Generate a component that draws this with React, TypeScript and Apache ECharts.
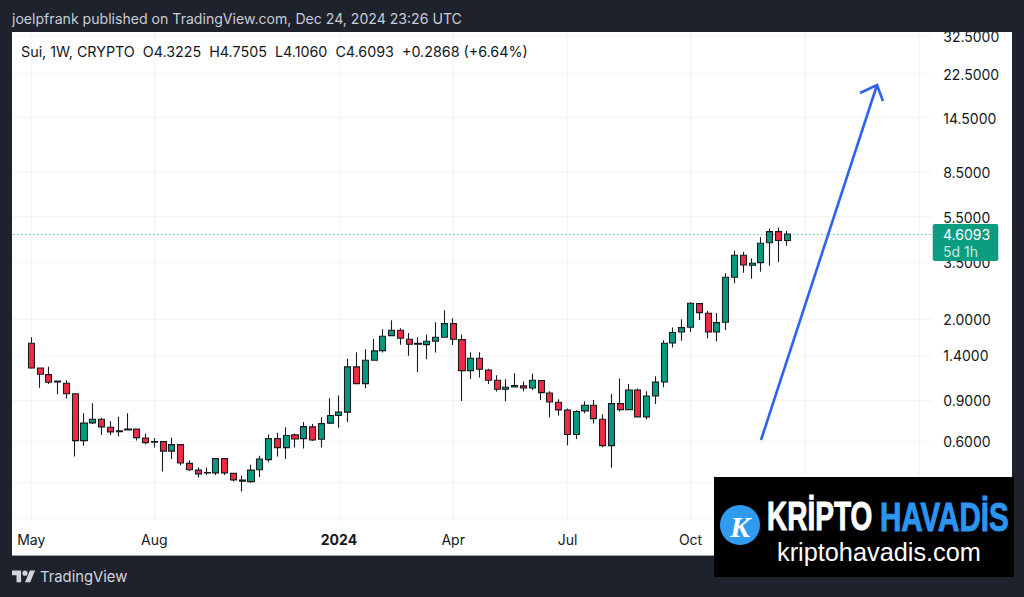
import React, { useEffect, useRef } from "react";
import * as echarts from "echarts";

const opens = [1.571,1.232,1.153,1.084,1.060,0.956,0.602,0.717,0.743,0.687,0.664,0.669,0.674,0.618,0.596,0.596,0.543,0.579,0.481,0.450,0.438,0.438,0.504,0.436,0.408,0.402,0.452,0.499,0.614,0.562,0.637,0.614,0.689,0.610,0.715,0.771,0.797,1.245,1.056,1.329,1.461,1.693,1.786,1.634,1.571,1.550,1.603,1.666,1.906,1.628,1.200,1.356,1.208,1.092,0.999,1.021,1.032,1.011,1.088,0.963,0.879,0.813,0.639,0.807,0.853,0.743,0.573,0.867,0.817,0.992,0.761,0.935,1.073,1.576,1.755,1.840,2.322,2.112,1.755,1.932,3.012,3.739,3.388,3.477,4.232,4.718,4.3225];
const highs = [1.666,1.236,1.248,1.087,1.092,0.960,0.789,0.871,0.755,0.729,0.761,0.789,0.676,0.645,0.618,0.598,0.620,0.581,0.496,0.463,0.461,0.506,0.506,0.438,0.427,0.475,0.519,0.639,0.651,0.687,0.645,0.724,0.710,0.758,0.914,0.938,1.350,1.438,1.481,1.639,1.804,1.971,1.822,1.739,1.666,1.710,1.932,2.174,2.011,1.710,1.438,1.438,1.223,1.147,1.103,1.170,1.077,1.162,1.092,0.979,0.905,0.826,0.813,0.887,0.899,0.781,0.953,1.109,1.052,1.005,0.979,1.135,1.618,1.833,1.991,2.352,2.330,2.160,2.118,3.133,3.912,3.873,3.631,4.461,4.862,4.911,4.7505];
const lows = [1.223,1.014,1.052,0.951,0.911,0.515,0.573,0.710,0.637,0.637,0.629,0.667,0.602,0.581,0.562,0.444,0.502,0.472,0.446,0.419,0.429,0.429,0.429,0.402,0.365,0.398,0.421,0.486,0.515,0.502,0.562,0.557,0.600,0.562,0.710,0.684,0.724,1.052,1.009,1.324,1.433,1.688,1.550,1.390,1.181,1.342,1.433,1.660,1.545,0.890,1.106,1.120,1.052,0.976,0.887,1.018,0.979,0.992,0.899,0.758,0.771,0.575,0.612,0.789,0.712,0.564,0.461,0.802,0.813,0.758,0.741,0.864,1.018,1.505,1.612,1.755,1.977,1.650,1.603,1.791,2.838,3.150,2.969,3.180,3.374,3.497,4.1060];
const closes = [1.232,1.158,1.070,1.073,0.956,0.602,0.715,0.743,0.689,0.656,0.658,0.674,0.620,0.590,0.592,0.543,0.579,0.483,0.452,0.434,0.440,0.504,0.438,0.409,0.404,0.450,0.502,0.614,0.562,0.633,0.612,0.691,0.606,0.712,0.771,0.797,1.245,1.056,1.329,1.457,1.683,1.786,1.650,1.556,1.556,1.603,1.666,1.906,1.634,1.200,1.356,1.216,1.092,0.999,1.018,1.035,1.011,1.092,0.966,0.881,0.815,0.639,0.802,0.853,0.748,0.573,0.867,0.817,0.992,0.761,0.935,1.071,1.571,1.748,1.833,2.330,2.124,1.755,1.925,3.012,3.739,3.398,3.456,4.208,4.718,4.3225,4.6093];

const priceLabels = [32.5, 22.5, 14.5, 8.5, 5.5, 3.5, 2.0, 1.4, 0.9, 0.6];
const priceGridOnly = [0.4, 0.28];
const leadingWeeks = 2;
const trailingWeeks = 16;
const monthLabels: Record<number, string> = { 0: "May", 14: "Aug", 35: "{b|2024}", 48: "Apr", 61: "Jul", 75: "Oct" };
const gridWeeks = [0, 14, 35, 48, 61, 75, 88, 101];
const lastPrice = 4.6093;

const headerText = "joelpfrank published on TradingView.com, Dec 24, 2024 23:26 UTC";
const legendText = "Sui, 1W, CRYPTO  O4.3225  H4.7505  L4.1060  C4.6093  +0.2868 (+6.64%)";

const DARK = "#1e222d";
const UP = "#089981";
const DOWN = "#ee2b45";
const WICK = "#1b1b1f";
const GRIDC = "#f3f4f6";
const FONT = "Inter, 'Noto Sans', sans-serif";
const BLUE = "#2f62ee";

echarts.graphic.registerShape(
  "tvlogo",
  echarts.graphic.extendPath("M14 22H7V11H0V4h14v18zM28 22h-8l7.5-18h8L28 22zM24 8a4 4 0 1 1-8 0 4 4 0 1 1 8 0z", {})
);

export default function App() {
  const ref = useRef<HTMLDivElement>(null);
  useEffect(() => {
    const chart = echarts.init(ref.current!, undefined, { renderer: "svg" });
    const total = leadingWeeks + opens.length + trailingWeeks;
    const categories = Array.from({ length: total }, (_, i) => String(i - leadingWeeks));
    const padding = Array.from({ length: leadingWeeks }, () => "-");
    const candles = [...padding, ...opens.map((o, i) => [o, closes[i], lows[i], highs[i]])];
    const front = 100;
    chart.setOption({
      animation: false,
      backgroundColor: DARK,
      grid: { left: 9.3, right: 91.75, top: 33, bottom: 76, containLabel: false },
      xAxis: {
        type: "category",
        data: categories,
        boundaryGap: true,
        axisLine: { show: false },
        axisTick: { show: false },
        axisLabel: {
          interval: (i: number) => monthLabels[i - leadingWeeks] !== undefined,
          formatter: (v: string) => monthLabels[Number(v)] ?? "",
          color: "#131722",
          fontFamily: FONT,
          fontSize: 14,
          margin: 11,
          rich: { b: { fontWeight: "bold", fontFamily: FONT, fontSize: 14, color: "#131722" } },
        },
        splitLine: {
          show: true,
          alignWithLabel: true,
          interval: (i: number) => gridWeeks.includes(i - leadingWeeks),
          lineStyle: { color: GRIDC, width: 1 },
        },
      },
      yAxis: {
        type: "log",
        logBase: 10,
        min: 0.2727,
        max: 33.4,
        position: "right",
        axisLine: { show: false },
        axisTick: { show: false },
        splitLine: { show: false },
        axisLabel: { show: false },
      },
      series: [
        {
          type: "candlestick",
          z: 5,
          data: candles,
          barWidth: 6.6,
          itemStyle: { color: UP, color0: DOWN, borderColor: WICK, borderColor0: WICK, borderWidth: 1.1 },
          markLine: {
            silent: true,
            symbol: "none",
            animation: false,
            z: 1,
            data: [
              ...priceGridOnly.concat(priceLabels).map((v) => ({
                yAxis: v,
                lineStyle: { color: GRIDC, width: 1, type: "solid" },
                label: {
                  show: priceLabels.includes(v),
                  position: "end",
                  distance: 11,
                  offset: [0, 1],
                  formatter: v.toFixed(4),
                  color: "#131722",
                  fontFamily: FONT,
                  fontSize: 14,
                },
              })),
              {
                yAxis: lastPrice,
                lineStyle: { color: UP, width: 1, type: [1, 3] },
                label: { show: false },
              },
            ],
          },
        },
      ],
      graphic: [
        { type: "rect", z: -10, shape: { x: 12, y: 32, width: 1000, height: 523 }, style: { fill: "#ffffff" } },
        { type: "rect", z: front, shape: { x: 0, y: 0, width: 1024, height: 32 }, style: { fill: DARK } },
        { type: "rect", z: front, shape: { x: 0, y: 0, width: 12, height: 597 }, style: { fill: DARK } },
        { type: "rect", z: front, shape: { x: 12, y: 555, width: 1000, height: 1 }, style: { fill: "#9aa0ac" } },
        { type: "text", z: front + 1, x: 12, y: 18, style: { text: headerText, fill: "#c9ccd4", font: `14.1px ${FONT}`, verticalAlign: "middle" } },
        { type: "text", z: front + 1, x: 21, y: 51, style: { text: legendText, fill: "#131722", font: `14.3px ${FONT}`, verticalAlign: "middle" } },
        { type: "polyline", z: front, shape: { points: [[761, 440], [877, 85]] }, style: { stroke: BLUE, lineWidth: 2.6, fill: "none" } },
        { type: "polyline", z: front, shape: { points: [[860, 93], [877, 85], [883, 101]] }, style: { stroke: BLUE, lineWidth: 2.6, fill: "none" } },
        { type: "rect", z: front, shape: { x: 932.7, y: 224, width: 65.6, height: 37, r: 2 }, style: { fill: "#0c9d80" } },
        { type: "text", z: front + 1, x: 943, y: 234, style: { text: lastPrice.toFixed(4), fill: "#ffffff", font: `14px ${FONT}`, verticalAlign: "middle" } },
        { type: "text", z: front + 1, x: 943, y: 251, style: { text: "5d 1h", fill: "#c4ece2", font: `14px ${FONT}`, verticalAlign: "middle" } },
        { type: "rect", z: front, shape: { x: 714, y: 477, width: 300, height: 100 }, style: { fill: "#000000" } },
        { type: "circle", z: front + 1, shape: { cx: 740, cy: 525, r: 20 }, style: { fill: "#2f9bf0" } },
        { type: "text", z: front + 2, x: 740, y: 526, style: { text: "K", fill: "#ffffff", font: "italic bold 30px 'Liberation Serif', serif", align: "center", verticalAlign: "middle" } },
        { type: "text", z: front + 1, x: 767, y: 516.5, scaleX: 0.7, style: { text: "KRİPTO", fill: "#ffffff", stroke: "#ffffff", lineWidth: 1, font: "bold 40px 'Liberation Sans', sans-serif", verticalAlign: "middle" } },
        { type: "text", z: front + 1, x: 880, y: 516.5, scaleX: 0.74, style: { text: "HAVADİS", fill: "#2a96f0", stroke: "#2a96f0", lineWidth: 1, font: "bold 40px 'Liberation Sans', sans-serif", verticalAlign: "middle" } },
        { type: "text", z: front + 1, x: 777, y: 552, style: { text: "kriptohavadis.com", fill: "#ffffff", font: "25.3px 'Liberation Sans', sans-serif", verticalAlign: "middle" } },
        { type: "tvlogo", z: front, x: 12, y: 568, scaleX: 0.65, scaleY: 0.65, style: { fill: "#d1d4dc" } },
        { type: "text", z: front + 1, x: 40, y: 577, style: { text: "TradingView", fill: "#d1d4dc", font: `14.8px ${FONT}`, verticalAlign: "middle" } },
      ],
    });
    return () => chart.dispose();
  }, []);
  return <div ref={ref} style={{ position: "absolute", left: 0, top: 0, width: 1024, height: 597 }} />;
}
